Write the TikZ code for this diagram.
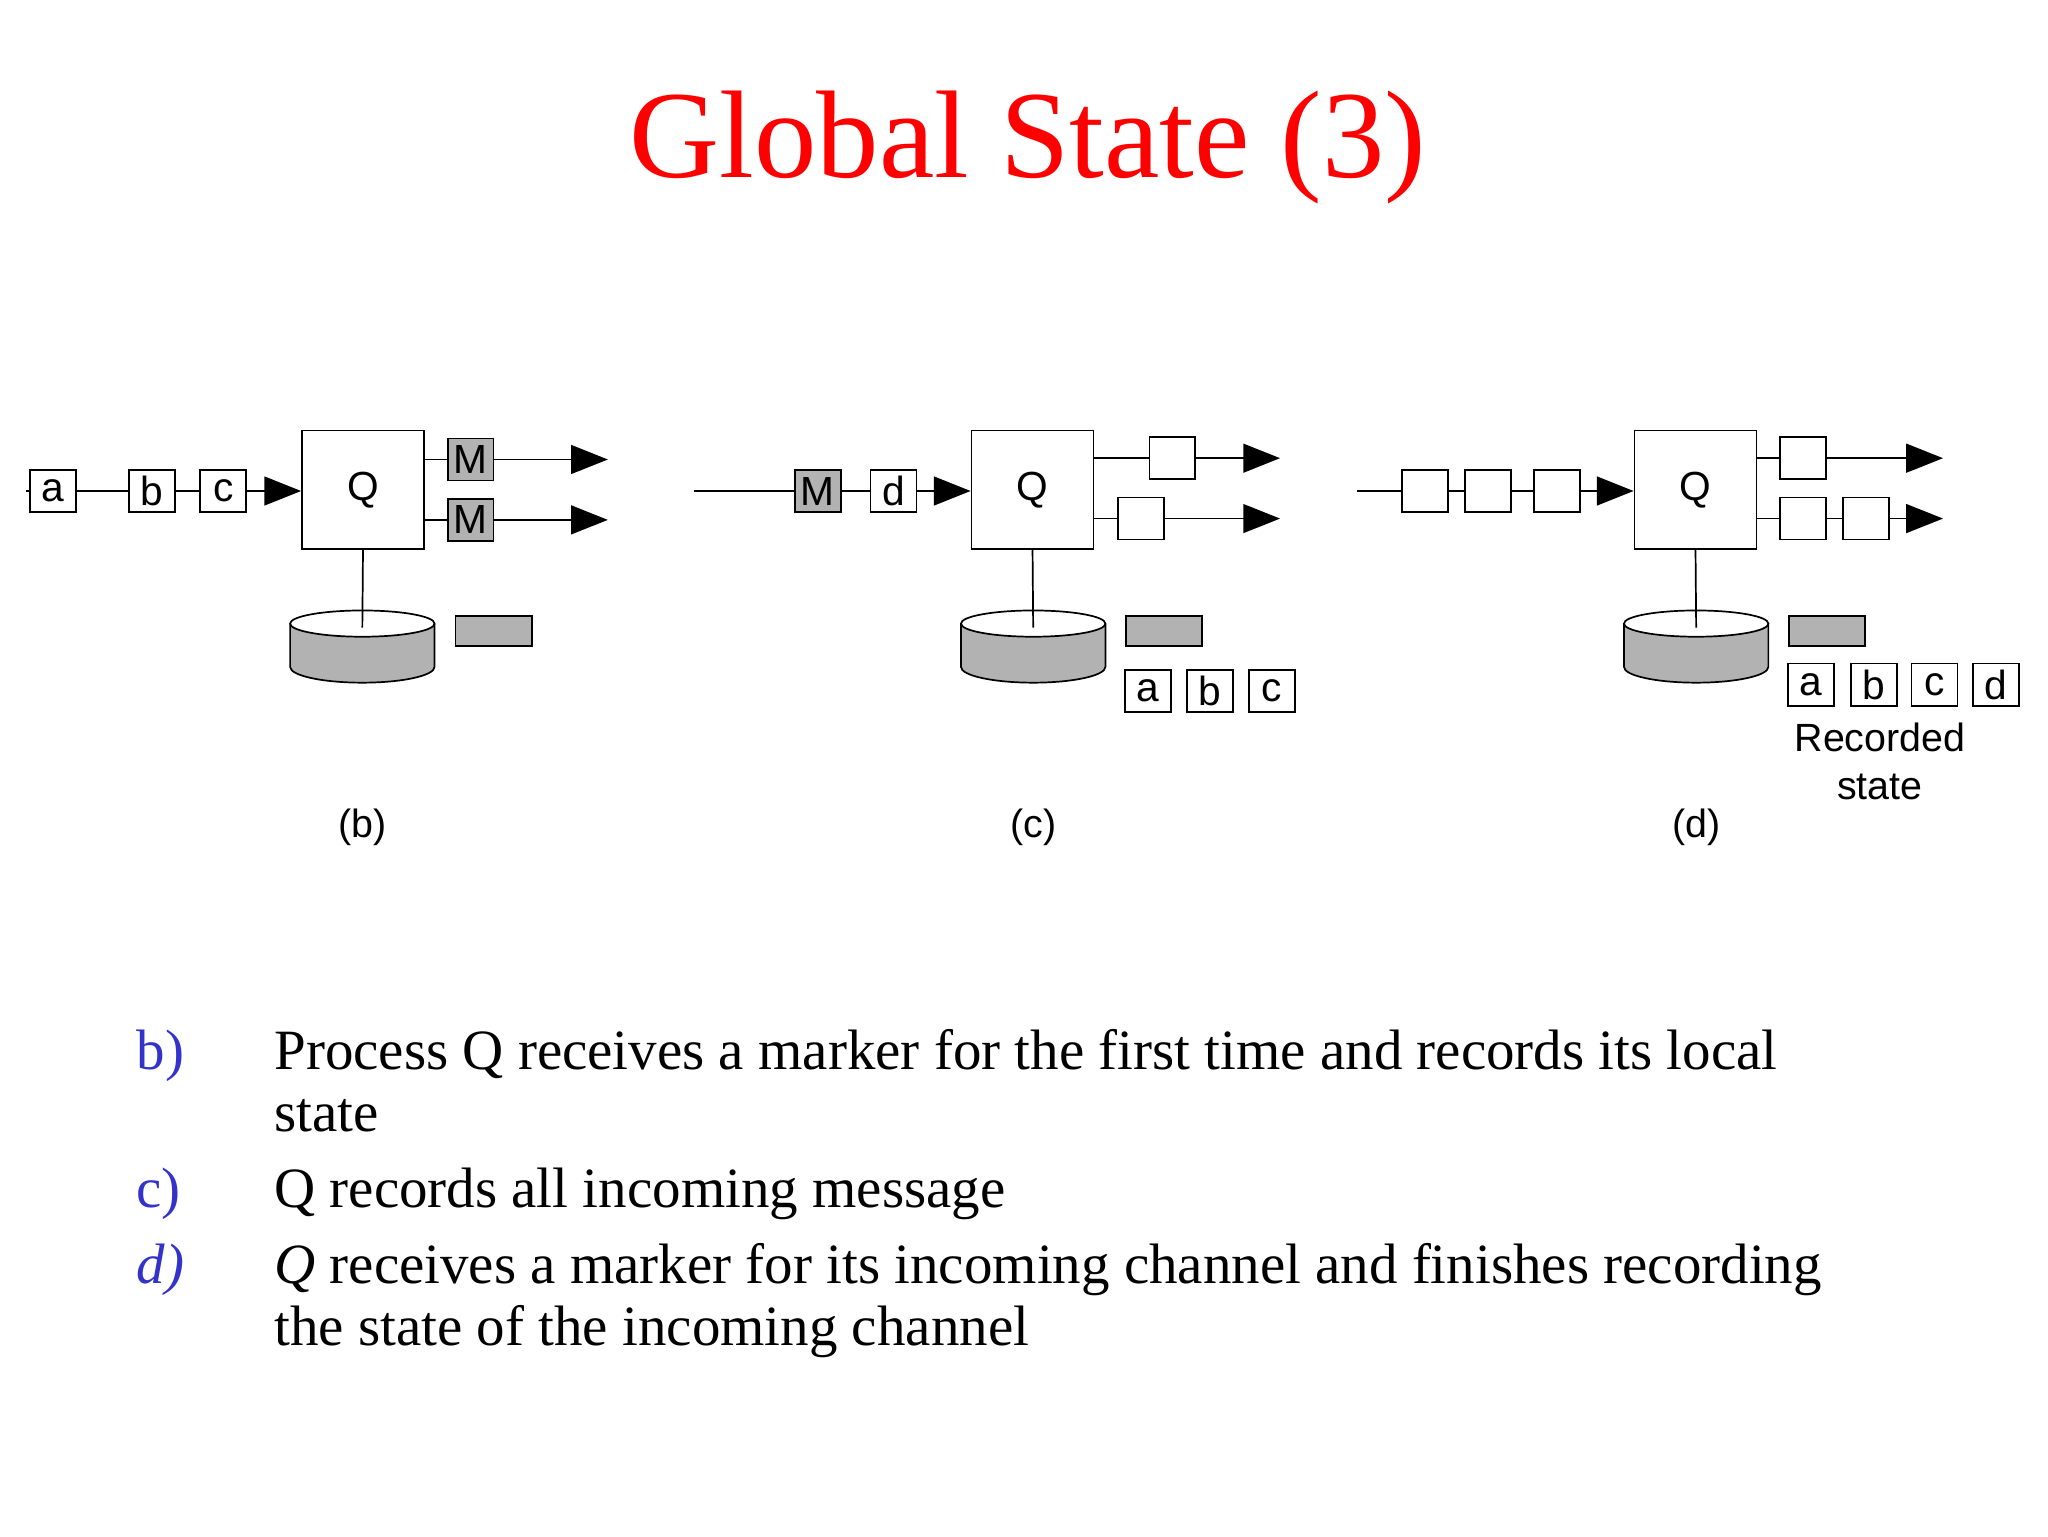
\documentclass[tikz,border=0pt]{standalone}
\usepackage{fontspec}
\setmainfont{Liberation Serif}
\newfontfamily\arialf{Liberation Sans}
\usetikzlibrary{arrows.meta}
\definecolor{lblue}{RGB}{51,51,204}
\definecolor{cgray}{RGB}{178,178,178}
\begin{document}
\begin{tikzpicture}[x=1pt,y=-1pt,line width=1.3pt,
  box/.style={draw,minimum width=35pt,minimum height=32pt,inner sep=0pt,font=\arialf\fontsize{31}{31}\selectfont},
  mbox/.style={box,fill=cgray},
  qbox/.style={draw,minimum width=93pt,minimum height=90pt,inner sep=0pt,font=\arialf\fontsize{31}{31}\selectfont},
  grect/.style={draw,fill=cgray,minimum width=58pt,minimum height=23pt,inner sep=0pt},
  arr/.style={-{Triangle[length=28pt,width=22pt]}},
  lbl/.style={font=\arialf\fontsize{30}{36}\selectfont,align=center},
  txt/.style={anchor=base west,font=\fontsize{43.4}{43.4}\selectfont},
  num/.style={anchor=base west,font=\fontsize{43.4}{43.4}\selectfont,text=lblue}]
\useasboundingbox[fill=white] (0,0) rectangle (1560,1170);
\node[font=\fontsize{95}{95}\selectfont,text=red,anchor=base] (title) at (783,135) {Global State (3)};
\newcommand{\cyl}[1]{%
  \fill[cgray] (#1-55,475) -- (#1-55,508) arc[start angle=180,end angle=360,x radius=55pt,y radius=12pt] -- (#1+55,475) -- cycle;
  \draw (#1-55,475) -- (#1-55,508) arc[start angle=180,end angle=360,x radius=55pt,y radius=12pt] -- (#1+55,475);
  \draw[fill=white] (#1,475) ellipse[x radius=55pt,y radius=10pt];}
% ---------- (b)
\node[qbox] (qb) at (276.5,373) {Q};
\coordinate (sb) at (20,374);
\node[box] (ba) at (40.5,374) {a};
\node[box] (bb) at (116,374) {b};
\node[box] (bc) at (170,374) {c};
\draw (sb) -- (ba); \draw (ba) -- (bb); \draw (bb) -- (bc);
\draw[arr] (bc) -- (qb.west |- bc);
\node[mbox] (bm1) at (358.5,350) {M};
\node[mbox] (bm2) at (358.5,396) {M};
\coordinate (be1) at (463,350); \coordinate (be2) at (463,396);
\draw (qb.east |- bm1) -- (bm1); \draw[arr] (bm1) -- (be1);
\draw (qb.east |- bm2) -- (bm2); \draw[arr] (bm2) -- (be2);
\cyl{276}
\coordinate (bd) at (276,478);
\draw (qb.south) -- (bd);
\node[grect] (bg) at (376,480.5) {};
\node[lbl] (bl) at (276,630) {(b)};
% ---------- (c)
\node[qbox] (qc) at (786.5,373) {Q};
\coordinate (sc) at (529,374);
\node[mbox] (cm) at (623,374) {M};
\node[box] (cd) at (680.5,374) {d};
\draw (sc) -- (cm); \draw (cm) -- (cd);
\draw[arr] (cd) -- (qc.west |- cd);
\node[box] (co1) at (893,349) {};
\node[box] (co2) at (869,395) {};
\coordinate (ce1) at (975,349); \coordinate (ce2) at (975,395);
\draw (qc.east |- co1) -- (co1); \draw[arr] (co1) -- (ce1);
\draw (qc.east |- co2) -- (co2); \draw[arr] (co2) -- (ce2);
\cyl{787}
\coordinate (cdb) at (787,478);
\draw (qc.south) -- (cdb);
\node[grect] (cg) at (886.5,480.5) {};
\node[box] (ca) at (874.5,526.5) {a};
\node[box] (cb) at (921.5,526.5) {b};
\node[box] (cc) at (969,526.5) {c};
\node[lbl] (cl) at (787,630) {(c)};
% ---------- (d)
\node[qbox] (qd) at (1291.5,373) {Q};
\coordinate (sd) at (1034,374);
\node[box] (d1) at (1085.5,374) {};
\node[box] (d2) at (1133.5,374) {};
\node[box] (d3) at (1186,374) {};
\draw (sd) -- (d1); \draw (d1) -- (d2); \draw (d2) -- (d3);
\draw[arr] (d3) -- (qd.west |- d3);
\node[box] (do1) at (1373.5,349) {};
\node[box] (do2) at (1373.5,395) {};
\node[box] (do3) at (1421.5,395) {};
\coordinate (de1) at (1480,349); \coordinate (de2) at (1480,395);
\draw (qd.east |- do1) -- (do1); \draw[arr] (do1) -- (de1);
\draw (qd.east |- do2) -- (do2); \draw (do2) -- (do3); \draw[arr] (do3) -- (de2);
\cyl{1292}
\coordinate (ddb) at (1292,478);
\draw (qd.south) -- (ddb);
\node[grect] (dg) at (1391.5,480.5) {};
\node[box] (da) at (1379.5,521.5) {a};
\node[box] (db) at (1427.5,521.5) {b};
\node[box] (dc) at (1473.5,521.5) {c};
\node[box] (dd) at (1520.5,521.5) {d};
\node[lbl] (drs) at (1432,580) {Recorded\\state};
\node[lbl] (dl) at (1292,630) {(d)};
% ---------- text
\node[num] (n1) at (100,815) {b)};
\node[txt] (t1) at (205,815) {Process Q receives a marker for the first time and records its local};
\node[txt] (t1b) at (205,862) {state};
\node[num] (n2) at (100,920) {c)};
\node[txt] (t2) at (205,920) {Q records all incoming message};
\node[num] (n3) at (100,978) {\itshape d)};
\node[txt] (t3) at (205,978) {\textit{Q} receives a marker for its incoming channel and finishes recording};
\node[txt] (t3b) at (205,1025) {the state of the incoming channel};
\end{tikzpicture}
\end{document}
